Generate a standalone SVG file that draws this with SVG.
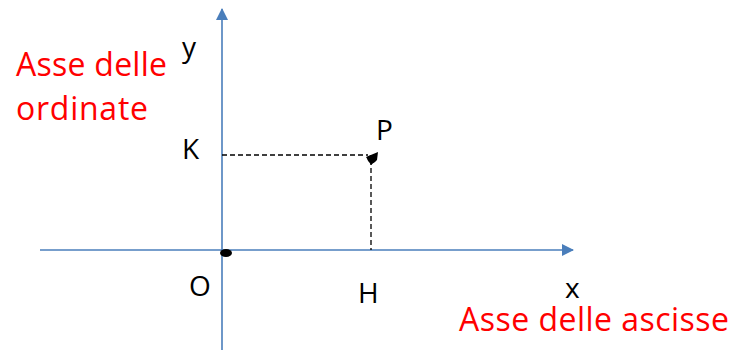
<svg xmlns="http://www.w3.org/2000/svg" width="738" height="350" viewBox="0 0 738 350">
<defs>
<marker id="arr" markerWidth="12" markerHeight="12" viewBox="0 0 12 12" refX="11" refY="6" orient="auto" markerUnits="userSpaceOnUse">
<path d="M0,0 L12,6 L0,12 Z" fill="#4a7ebb"/>
</marker>
<style>
.axis{stroke:#4a7ebb;stroke-width:1.6;fill:none}
.dash{stroke:#000;stroke-width:1.3;stroke-dasharray:5 3;fill:none}
.lbl{font-family:"Open Sans","Liberation Sans",sans-serif;font-size:28px;fill:#000}
.red{font-family:"Open Sans","Liberation Sans",sans-serif;font-size:32px;fill:#ff0000}
</style>
</defs>
<g id="connectors">
<line class="axis" x1="222" y1="350" x2="222" y2="9" marker-end="url(#arr)"/>
<line class="axis" x1="40" y1="250" x2="573" y2="250" marker-end="url(#arr)"/>
<line class="dash" x1="222" y1="155" x2="368" y2="155"/>
<line class="dash" x1="371" y1="160" x2="371" y2="250"/>
</g>
<g id="P">
<path d="M366,157 L378,152 L377,160 L371,165 Z" fill="#000"/>
<ellipse cx="372" cy="159" rx="4.5" ry="4" fill="#000"/>
<text class="lbl" x="376" y="140">P</text>
</g>
<g id="O">
<ellipse cx="226" cy="253" rx="6" ry="4" fill="#000"/>
<text class="lbl" x="189" y="296">O</text>
</g>
<g id="K"><text class="lbl" x="182" y="159">K</text></g>
<g id="H"><text class="lbl" x="358" y="303">H</text></g>
<g id="y"><text class="lbl" x="182" y="57">y</text></g>
<g id="x"><text class="lbl" x="565" y="298">x</text></g>
<g id="ordinate"><text class="red" x="16" y="76" textLength="151">Asse delle</text><text class="red" x="16" y="120" textLength="132">ordinate</text></g>
<g id="ascisse"><text class="red" x="459" y="331" textLength="270">Asse delle ascisse</text></g>
</svg>
